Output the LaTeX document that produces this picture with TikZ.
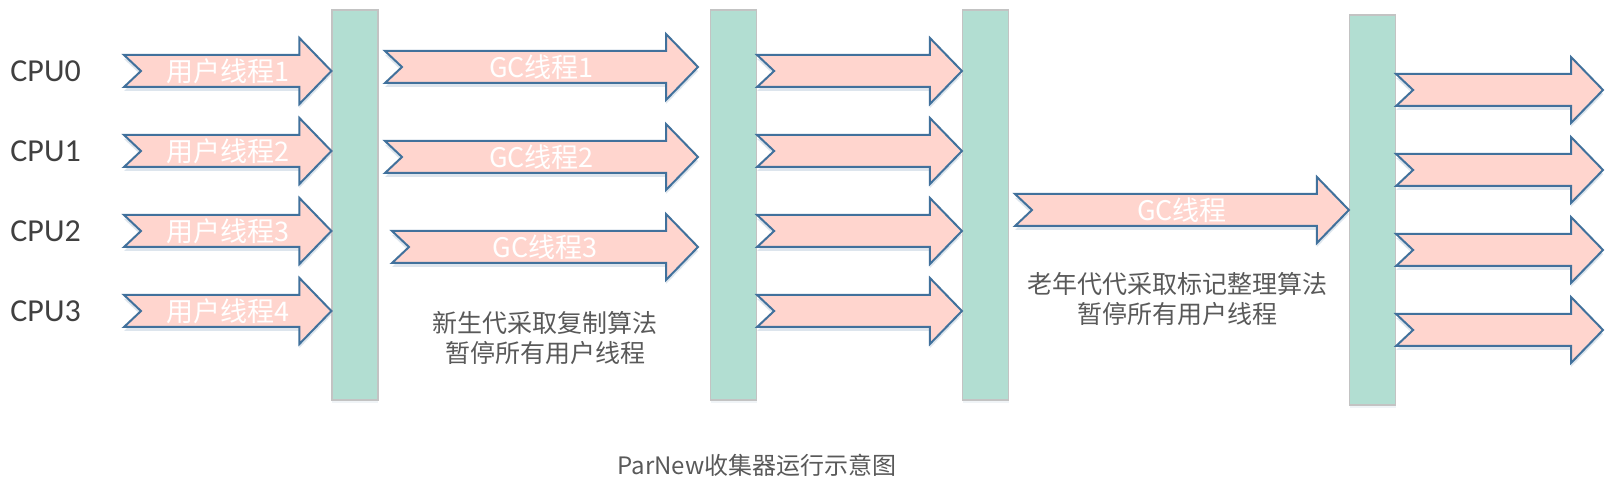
\documentclass[tikz,border=0pt]{standalone}
\usepackage{fontspec}
\setmainfont{Carlito}
\newfontfamily\cjk{Noto Sans CJK SC}
\usetikzlibrary{calc, shadows}
\definecolor{AF}{RGB}{255,213,206}
\definecolor{AB}{RGB}{65,113,156}
\definecolor{BF}{RGB}{178,222,210}
\definecolor{BG}{RGB}{195,195,195}
\definecolor{TG}{RGB}{89,89,89}
\definecolor{CG}{RGB}{64,64,64}

% block arrow: #1 name, #2 tail, #3 tip, #4 label
\newcommand{\blockarr}[4]{%
  \path #2 coordinate (#1-t) #3 coordinate (#1-h);
  \draw[tharr] ($(#1-t)+(0,-16)$) -- ($(#1-h)+(-32,-16)$) -- ($(#1-h)+(-32,-33)$)
    -- (#1-h) -- ($(#1-h)+(-32,33)$) -- ($(#1-h)+(-32,16)$)
    -- ($(#1-t)+(0,16)$) -- ($(#1-t)+(17,0)$) -- cycle;
  \node[tlabel] (#1) at ($(#1-t)!0.5!(#1-h)$) {#4};
}

\begin{document}
\begin{tikzpicture}[
  x=0.5pt, y=-0.5pt,
  bar/.style={draw=BG, fill=BF, line width=0.6pt, inner sep=0pt,
              minimum width=23pt, minimum height=195pt,
              drop shadow={shadow xshift=0pt, shadow yshift=-1.5pt, fill=AB, opacity=0.08}},
  tharr/.style={draw=AB, fill=AF, line width=1pt, line join=miter,
                drop shadow={shadow xshift=0pt, shadow yshift=-2pt, fill=AB, opacity=0.18}},
  tlabel/.style={text=white, inner sep=0pt, font=\cjk\fontsize{13.5}{16}\selectfont},
  cpu/.style={anchor=west, inner sep=0pt, text=CG, font=\fontsize{16}{19}\selectfont},
  note/.style={text=TG, align=center, inner sep=0pt,
               font=\cjk\fontsize{12.5}{16}\selectfont}
]
\useasboundingbox (0,0) rectangle (1624,497);

% Safepoint bars
\node[bar] (B1) at (355,205) {};
\node[bar] (B2) at (733.5,205) {};
\node[bar] (B3) at (985.5,205) {};
\node[bar] (B4) at (1372.5,210) {};

% User threads before the young GC
\foreach \i/\y/\n in {0/71/1, 1/151/2, 2/231/3, 3/311/4} {
  \node[cpu] (cpu\i) at (10,\y) {CPU\i};
  \blockarr{u\i}{(124,\y)}{(B1.west |- 0,\y)}{用户线程\n}
}

% Young GC threads
\blockarr{gc1}{(385,67)}{(698,67)}{GC线程1}
\blockarr{gc2}{(385,157)}{(698,157)}{GC线程2}
\blockarr{gc3}{(392,247)}{(698,247)}{GC线程3}
\node[note] (young) at (545,338) {新生代采取复制算法\\[-1pt]暂停所有用户线程};

% User threads resumed
\foreach \i/\y in {0/71, 1/151, 2/231, 3/311}
  \blockarr{m\i}{(B2.east |- 0,\y)}{(B3.west |- 0,\y)}{};

% Old GC thread
\blockarr{gco}{(1015,210)}{(B4.west |- 0,210)}{GC线程}
\node[note] (old) at (1177,299) {老年代代采取标记整理算法\\[-1pt]暂停所有用户线程};

% User threads after the old GC
\foreach \i/\y in {0/90, 1/170, 2/250, 3/330}
  \blockarr{r\i}{(B4.east |- 0,\y)}{(1603,\y)}{};

% Caption
\node[text=TG, font=\cjk\fontsize{12}{14}\selectfont] (cap) at (757,465)
  {ParNew收集器运行示意图};
\end{tikzpicture}
\end{document}
